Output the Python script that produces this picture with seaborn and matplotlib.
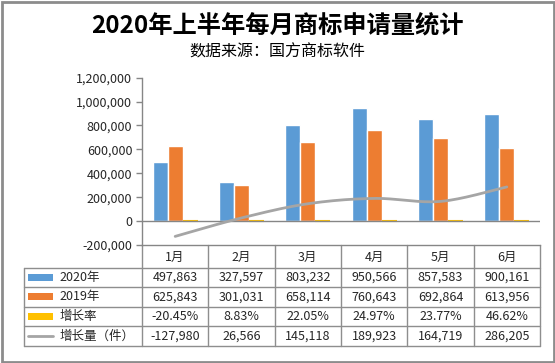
import numpy as np
import pandas as pd
import matplotlib
matplotlib.use("Agg")
import matplotlib.pyplot as plt
import seaborn as sns
from matplotlib.patches import Rectangle
from matplotlib.lines import Line2D

# ---------------- data ----------------
months = ["1月", "2月", "3月", "4月", "5月", "6月"]
apps_2020 = [497863, 327597, 803232, 950566, 857583, 900161]
apps_2019 = [625843, 301031, 658114, 760643, 692864, 613956]
growth_rate = [-20.45, 8.83, 22.05, 24.97, 23.77, 46.62]          # percent
growth_amount = [-127980, 26566, 145118, 189923, 164719, 286205]  # 件
series_names = ["2020年", "2019年", "增长率", "增长量（件）"]
yticks = [-200000, 0, 200000, 400000, 600000, 800000, 1000000, 1200000]

title = "2020年上半年每月商标申请量统计"
subtitle = "数据来源：国方商标软件"

# ---------------- style ----------------
C_BLUE, C_ORANGE, C_YELLOW, C_GREY = "#5B9BD5", "#ED7D31", "#FFC000", "#A5A5A5"
C_AXIS = "#868686"
C_TEXT = "#262626"

sns.set_theme(style="white")
plt.rcParams["font.family"] = ["Noto Sans CJK SC", "DejaVu Sans"]

W, H = 555, 363
fig = plt.figure(figsize=(W / 100, H / 100), dpi=100)

# layout in pixels
PL, PR, PT, PB = 142, 540, 77.7, 245
ax = fig.add_axes([PL / W, (H - PB) / H, (PR - PL) / W, (PB - PT) / H])

df = pd.DataFrame({
    "month": months * 3,
    "series": [series_names[0]] * 6 + [series_names[1]] * 6 + [series_names[2]] * 6,
    "value": list(apps_2020) + list(apps_2019) + [r / 100 for r in growth_rate],
})
sns.barplot(data=df, x="month", y="value", hue="series",
            palette=[C_BLUE, C_ORANGE, C_YELLOW], width=0.68, dodge=True,
            saturation=1, legend=False, ax=ax, zorder=2)
for bar in ax.containers[2]:
    bar.set_edgecolor(C_YELLOW)
    bar.set_linewidth(1.5)

# smoothed line (Catmull-Rom through data points, similar to Excel smoothing)
xs = np.arange(len(months), dtype=float)
ys = np.array(growth_amount, dtype=float)
P = np.column_stack([xs, ys])
Pext = np.vstack([P[0], P, P[-1]])
curve = []
for i in range(len(P) - 1):
    p0, p1, p2, p3 = Pext[i], Pext[i + 1], Pext[i + 2], Pext[i + 3]
    c1 = p1 + (p2 - p0) / 6
    c2 = p2 - (p3 - p1) / 6
    t = np.linspace(0, 1, 30)[:, None]
    seg = (1 - t) ** 3 * p1 + 3 * (1 - t) ** 2 * t * c1 + 3 * (1 - t) * t ** 2 * c2 + t ** 3 * p2
    curve.append(seg if i == 0 else seg[1:])
curve = np.vstack(curve)
sns.lineplot(x=curve[:, 0], y=curve[:, 1], sort=False, color=C_GREY, lw=2.0, ax=ax, zorder=4)

ax.axhline(0, color=C_AXIS, lw=1, zorder=3)
ax.set_xlim(-0.5, len(months) - 0.5)
ax.set_ylim(yticks[0], yticks[-1])
ax.set_yticks(yticks)
ax.set_yticklabels([f"{v:,}" for v in yticks], fontsize=9, color=C_TEXT)
ax.set_xticks([])
ax.set_xlabel("")
ax.set_ylabel("")
for s in ["top", "right"]:
    ax.spines[s].set_visible(False)
ax.spines["left"].set_color(C_AXIS)
ax.spines["bottom"].set_color(C_AXIS)
ax.spines["left"].set_linewidth(1)
ax.spines["bottom"].set_linewidth(1)
ax.tick_params(axis="y", which="major", direction="out", length=4, width=1,
               color=C_AXIS, pad=3, left=True)
ax.set_facecolor("none")

# ---------------- overlay for table, titles, border ----------------
ov = fig.add_axes([0, 0, 1, 1], zorder=-1)
ov.set_xlim(0, W)
ov.set_ylim(H, 0)
ov.axis("off")

ov.add_patch(Rectangle((1.5, 1.5), W - 3, H - 3, fill=False, ec="#8C8C8C", lw=2))
ov.text(W / 2, 25, title, ha="center", va="center", fontsize=17.5,
        fontweight="bold", color="black")
ov.text(W / 2, 52, subtitle, ha="center", va="center", fontsize=11.5, color="black")

TL = 23.7
rows_y = [268, 287, 306.5, 326.2, 346]
colw = (PR - PL) / len(months)
LC = "#8E8E8E"
for y in rows_y:
    ov.add_line(Line2D([TL, PR], [y, y], color=LC, lw=1))
ov.add_line(Line2D([TL, TL], [rows_y[0], rows_y[-1]], color=LC, lw=1))
for i in range(len(months) + 1):
    x = PL + i * colw
    ov.add_line(Line2D([x, x], [PB, rows_y[-1]], color=LC, lw=1))

FS = 9
for i, m in enumerate(months):
    ov.text(PL + (i + 0.5) * colw, (PB + rows_y[0]) / 2 + 0.5, m, ha="center",
            va="center", fontsize=FS, color=C_TEXT)

table_vals = [
    [f"{v:,}" for v in apps_2020],
    [f"{v:,}" for v in apps_2019],
    [f"{v:.2f}%" for v in growth_rate],
    [f"{v:,}" for v in growth_amount],
]
key_colors = [C_BLUE, C_ORANGE, C_YELLOW, C_GREY]
for r in range(4):
    yc = (rows_y[r] + rows_y[r + 1]) / 2
    if r < 3:
        ov.add_patch(Rectangle((27.7, yc - 3.4), 25, 6.8, color=key_colors[r], lw=0))
    else:
        ov.add_line(Line2D([27.7, 52.7], [yc, yc], color=C_GREY, lw=2))
    ov.text(59.5, yc, series_names[r], ha="left", va="center", fontsize=FS, color=C_TEXT)
    for i in range(len(months)):
        ov.text(PL + (i + 0.5) * colw, yc, table_vals[r][i], ha="center", va="center",
                fontsize=FS, color=C_TEXT)

fig.savefig("out.png", dpi=100, facecolor="white")
